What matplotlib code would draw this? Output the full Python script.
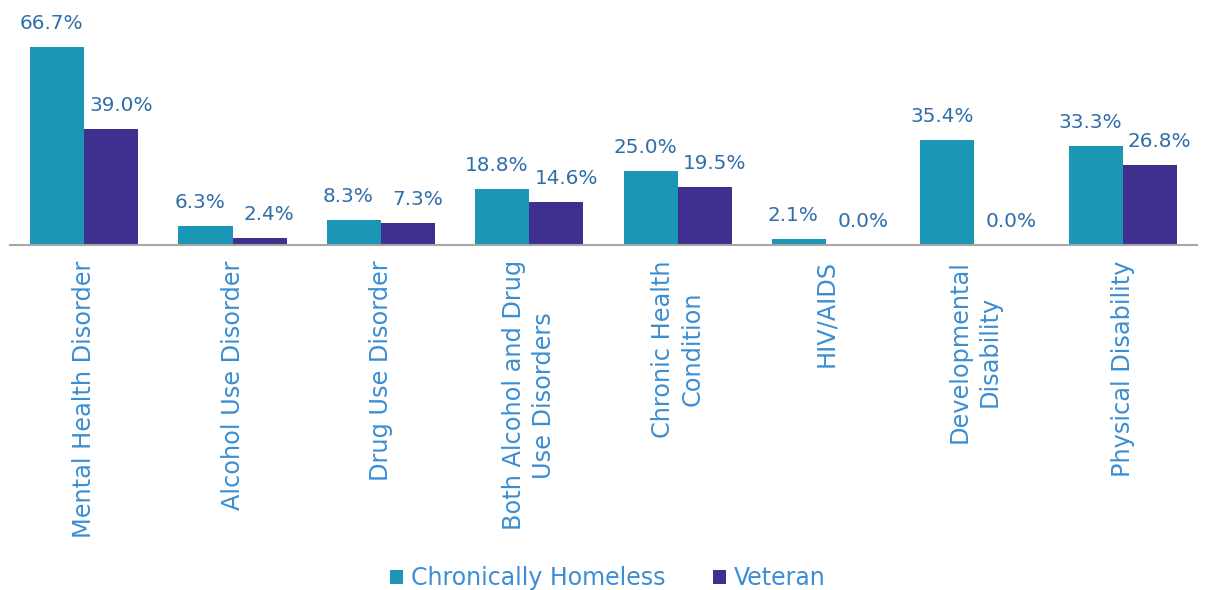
import matplotlib
matplotlib.use("Agg")
import matplotlib.pyplot as plt
import numpy as np

categories = ["Mental Health Disorder", "Alcohol Use Disorder", "Drug Use Disorder",
              "Both Alcohol and Drug\nUse Disorders", "Chronic Health\nCondition",
              "HIV/AIDS", "Developmental\nDisability", "Physical Disability"]
chronically_homeless = [66.7, 6.3, 8.3, 18.8, 25.0, 2.1, 35.4, 33.3]
veteran = [39.0, 2.4, 7.3, 14.6, 19.5, 0.0, 0.0, 26.8]
series_names = ["Chronically Homeless", "Veteran"]

teal = "#1B96B5"
purple = "#3F2F8E"
label_col = "#2F6EA8"
tick_col = "#3B8ED3"

plt.rcParams['font.family'] = ['DejaVu Sans']
fig = plt.figure(figsize=(12.05, 5.90), dpi=100)
ax = fig.add_axes([10/1205, (590-245)/590, (1197-10)/1205, 208/590])

x = np.arange(len(categories))
w = 0.365
b1 = ax.bar(x - w/2, chronically_homeless, w, color=teal, label=series_names[0])
b2 = ax.bar(x + w/2, veteran, w, color=purple, label=series_names[1])

# labels nudged outward so neighbouring labels don't collide (as in reference)
for bars, vals, dx in ((b1, chronically_homeless, -4), (b2, veteran, 7)):
    for r, v in zip(bars, vals):
        ax.annotate(f"{v:.1f}%", (r.get_x() + r.get_width()/2, v),
                    xytext=(dx, 17), textcoords="offset points",
                    ha="center", va="center", fontsize=14.4, color=label_col)

ax.set_xlim(-0.5, len(categories) - 0.5)
ax.set_ylim(0, 70)
ax.set_xticks(x)
ax.set_xticklabels(categories, rotation=90, fontsize=17.3, color=tick_col,
                   ha="center", va="top", multialignment="center",
                   linespacing=1.3)
ax.tick_params(axis="x", length=0, pad=11)
ax.set_yticks([])
for s in ["top", "right", "left"]:
    ax.spines[s].set_visible(False)
ax.spines["bottom"].set_color("#A6A6A6")
ax.spines["bottom"].set_linewidth(1.5)

leg = fig.legend(handles=[b1, b2], labels=series_names, loc="center",
                 bbox_to_anchor=(608/1205, 1 - 578/590), ncol=2, frameon=False,
                 fontsize=17, handlelength=0.55, handleheight=0.55,
                 handletextpad=0.35, columnspacing=2.0)
for t in leg.get_texts():
    t.set_color(tick_col)

fig.savefig("out.png", dpi=100)
